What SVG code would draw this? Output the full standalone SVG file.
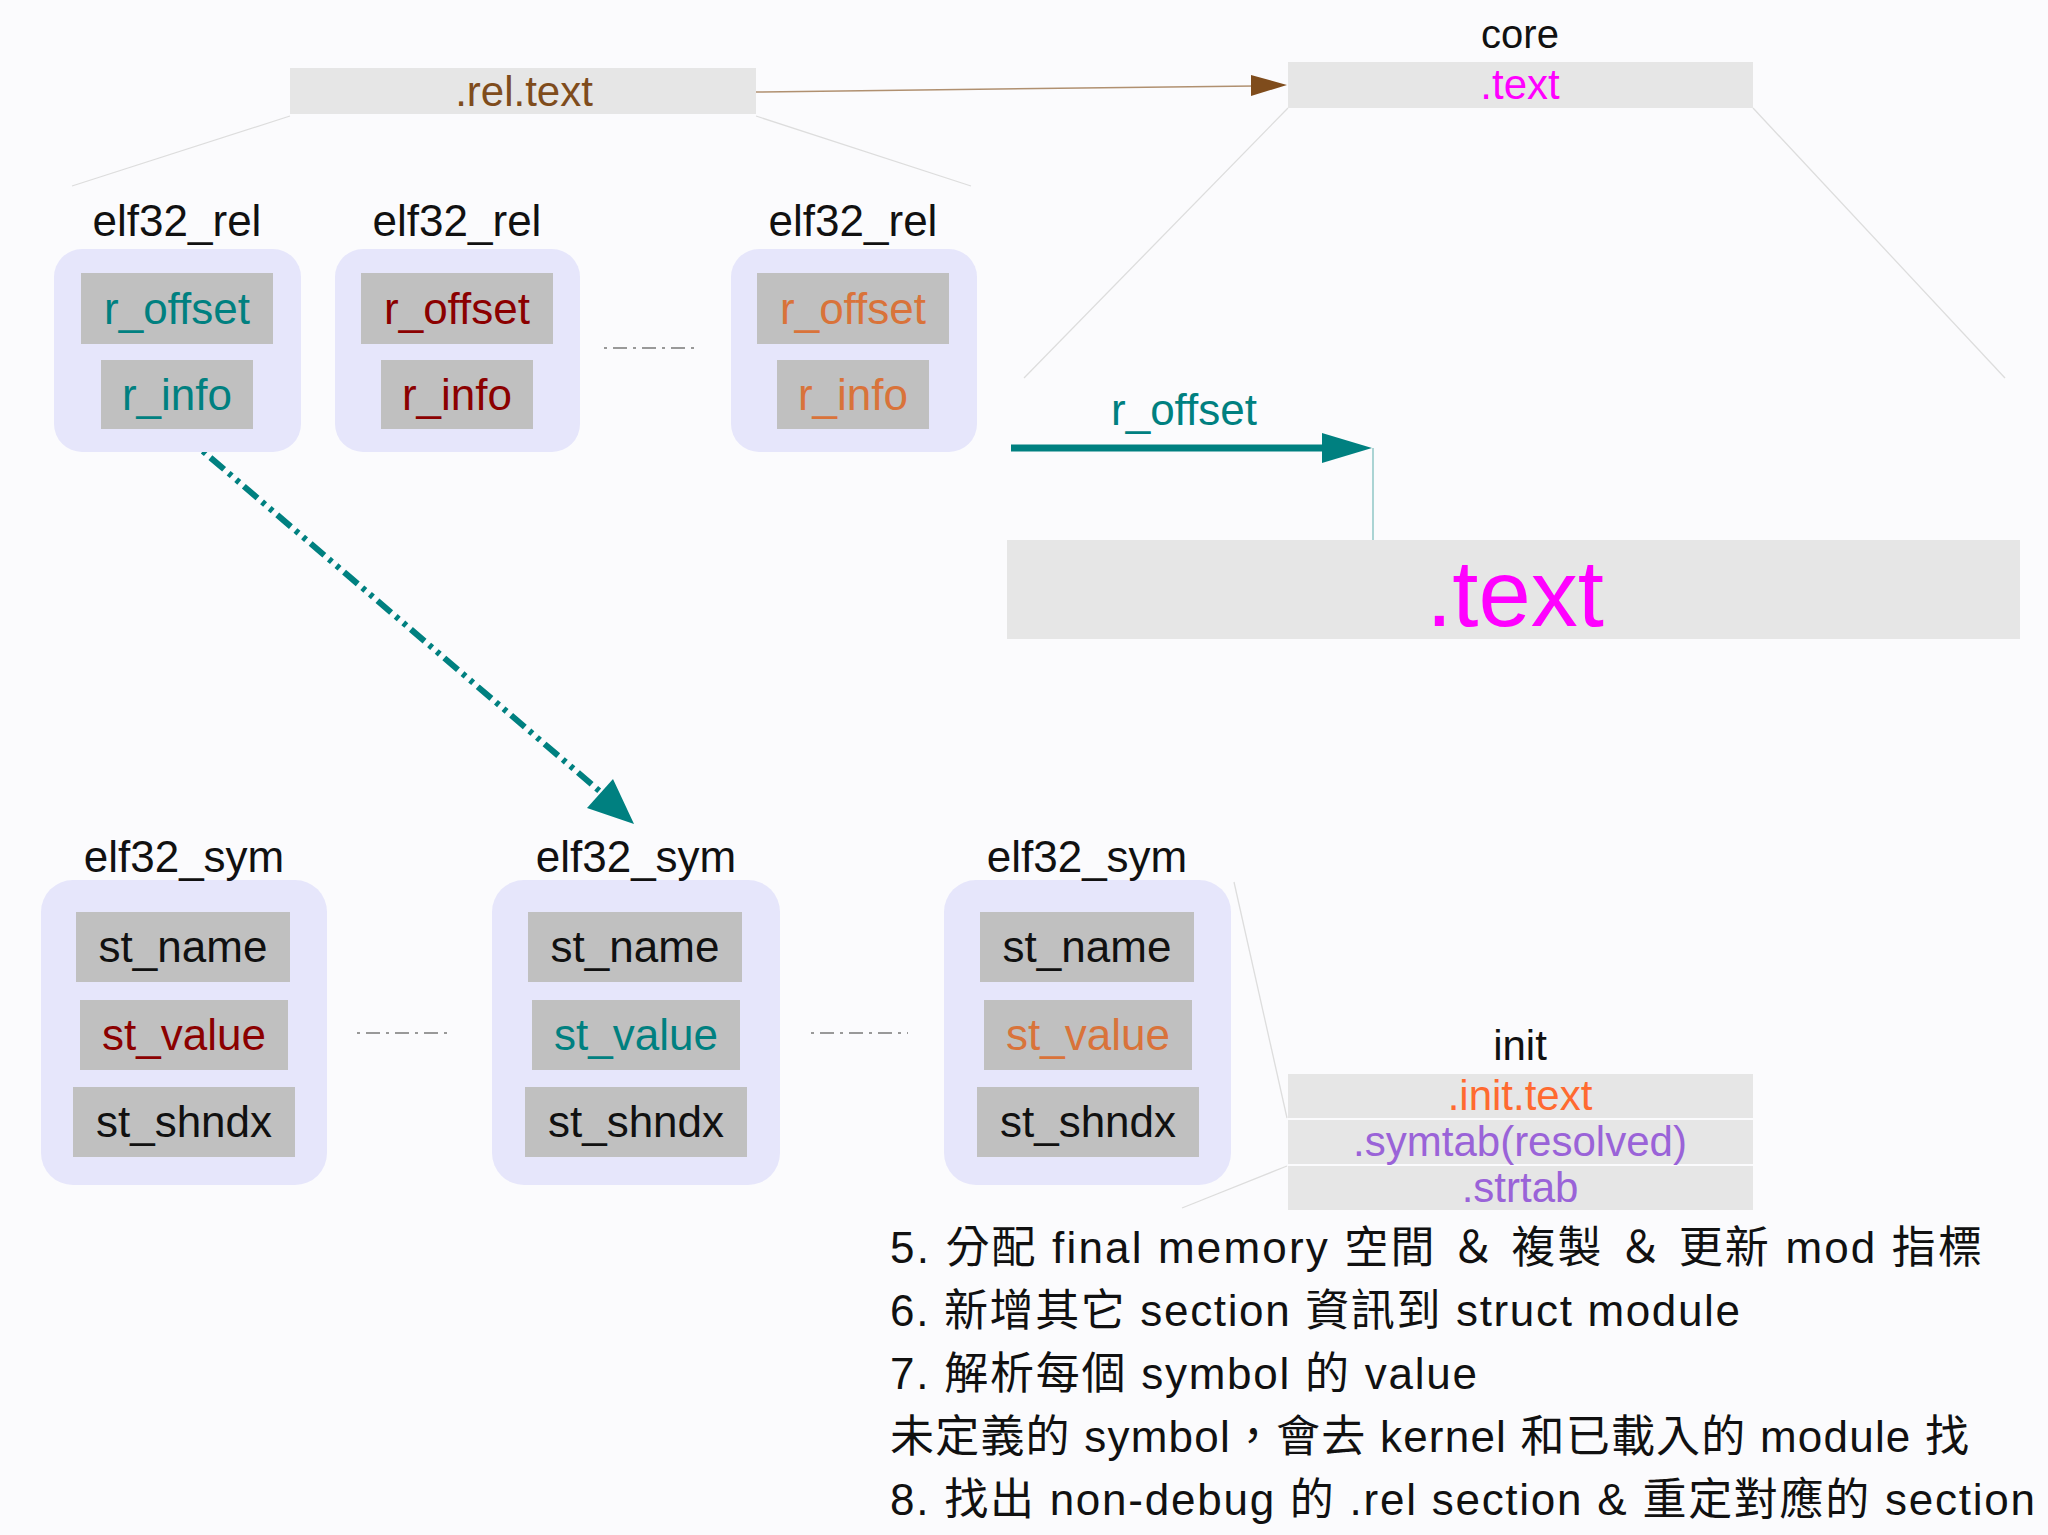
<svg xmlns="http://www.w3.org/2000/svg" width="2048" height="1535" viewBox="0 0 2048 1535">
<style>
text{font-family:"Liberation Sans","Noto Sans CJK TC",sans-serif;}
.lbl{font-size:44px;fill:#111;text-anchor:middle}
.f{font-size:44px;text-anchor:middle}
.cl{fill:#e6e6fb}
.gb{fill:#c0c0c0}
.sec{fill:#e6e6e6}
.thin{stroke:#ddd;stroke-width:1.3;fill:none}
.dash{stroke:#999;stroke-width:2;stroke-dasharray:3 6 14 6;fill:none}
.note{font-size:44px;fill:#111}
</style>
<rect width="2048" height="1535" fill="#fbfbfd"/>
<g id="connectors">
<line class="thin" x1="290" y1="116" x2="72" y2="186"/>
<line class="thin" x1="756" y1="116" x2="971" y2="186"/>
<line class="thin" x1="1288" y1="108" x2="1024" y2="378"/>
<line class="thin" x1="1753" y1="108" x2="2005" y2="378"/>
<line class="thin" x1="1234" y1="882" x2="1287" y2="1118"/>
<line class="thin" x1="1287" y1="1166" x2="1182" y2="1208"/>
<line x1="756" y1="92" x2="1255" y2="86" stroke="#b09070" stroke-width="1.5"/>
<path d="M1251,75L1287,85L1251,96z" fill="#7f4c1c"/>
<line class="dash" x1="604" y1="348" x2="698" y2="348"/>
<line class="dash" x1="357" y1="1033" x2="453" y2="1033"/>
<line class="dash" x1="811" y1="1033" x2="908" y2="1033"/>
<line x1="1011" y1="448" x2="1330" y2="448" stroke="#008080" stroke-width="7"/>
<path d="M1322,433L1372,448L1322,463z" fill="#008080"/>
<line x1="1373" y1="448" x2="1373" y2="540" stroke="#7fbfbf" stroke-width="1.3"/>
<line x1="177" y1="429" x2="610" y2="800" stroke="#008080" stroke-width="6" stroke-dasharray="18 6 4 6 4 6"/>
<path d="M587,808L634,824L613,779z" fill="#008080"/>
</g>
<g id="rel_text"><rect class="sec" x="290" y="68" width="466" height="46"/><text x="524" y="106" font-size="42" fill="#7f4c1c" text-anchor="middle">.rel.text</text></g>
<g id="core"><text x="1520" y="48" font-size="40" fill="#111" text-anchor="middle">core</text><rect class="sec" x="1288" y="62" width="465" height="46"/><text x="1520" y="99" font-size="42" fill="#ff00ff" text-anchor="middle">.text</text></g>
<g id="rel1"><rect class="cl" x="54" y="249" width="247" height="203" rx="28"/><text class="lbl" x="177" y="236">elf32_rel</text>
<rect class="gb" x="81" y="273" width="192" height="71"/><text class="f" x="177" y="324" fill="#008080">r_offset</text>
<rect class="gb" x="101" y="360" width="152" height="69"/><text class="f" x="177" y="410" fill="#008080">r_info</text></g>
<g id="rel2"><rect class="cl" x="335" y="249" width="245" height="203" rx="28"/><text class="lbl" x="457" y="236">elf32_rel</text>
<rect class="gb" x="361" y="273" width="192" height="71"/><text class="f" x="457" y="324" fill="#8b0000">r_offset</text>
<rect class="gb" x="381" y="360" width="152" height="69"/><text class="f" x="457" y="410" fill="#8b0000">r_info</text></g>
<g id="rel3"><rect class="cl" x="731" y="249" width="246" height="203" rx="28"/><text class="lbl" x="853" y="236">elf32_rel</text>
<rect class="gb" x="757" y="273" width="192" height="71"/><text class="f" x="853" y="324" fill="#d9733a">r_offset</text>
<rect class="gb" x="777" y="360" width="152" height="69"/><text class="f" x="853" y="410" fill="#d9733a">r_info</text></g>
<g id="roffset_label"><text x="1184" y="425" font-size="44" fill="#008080" text-anchor="middle">r_offset</text></g>
<g id="text_big"><rect class="sec" x="1007" y="540" width="1013" height="99"/><text x="1515" y="626" font-size="94" fill="#ff00ff" text-anchor="middle">.text</text></g>
<g id="sym1"><rect class="cl" x="41" y="880" width="286" height="305" rx="32"/><text class="lbl" x="184" y="872">elf32_sym</text>
<rect class="gb" x="76" y="912" width="214" height="70"/><text class="f" x="183" y="962" fill="#111">st_name</text>
<rect class="gb" x="80" y="1000" width="208" height="70"/><text class="f" x="184" y="1050" fill="#8b0000">st_value</text>
<rect class="gb" x="73" y="1087" width="222" height="70"/><text class="f" x="184" y="1137" fill="#111">st_shndx</text></g>
<g id="sym2"><rect class="cl" x="492" y="880" width="288" height="305" rx="32"/><text class="lbl" x="636" y="872">elf32_sym</text>
<rect class="gb" x="528" y="912" width="214" height="70"/><text class="f" x="635" y="962" fill="#111">st_name</text>
<rect class="gb" x="532" y="1000" width="208" height="70"/><text class="f" x="636" y="1050" fill="#008080">st_value</text>
<rect class="gb" x="525" y="1087" width="222" height="70"/><text class="f" x="636" y="1137" fill="#111">st_shndx</text></g>
<g id="sym3"><rect class="cl" x="944" y="880" width="287" height="305" rx="32"/><text class="lbl" x="1087" y="872">elf32_sym</text>
<rect class="gb" x="980" y="912" width="214" height="70"/><text class="f" x="1087" y="962" fill="#111">st_name</text>
<rect class="gb" x="984" y="1000" width="208" height="70"/><text class="f" x="1088" y="1050" fill="#d9733a">st_value</text>
<rect class="gb" x="977" y="1087" width="222" height="70"/><text class="f" x="1088" y="1137" fill="#111">st_shndx</text></g>
<g id="init"><text x="1520" y="1060" font-size="42" fill="#111" text-anchor="middle">init</text>
<rect class="sec" x="1288" y="1074" width="465" height="44"/><rect class="sec" x="1288" y="1120" width="465" height="44"/><rect class="sec" x="1288" y="1166" width="465" height="44"/>
<text x="1520" y="1110" font-size="42" fill="#ff6a30" text-anchor="middle">.init.text</text>
<text x="1520" y="1156" font-size="42" fill="#9a63d8" text-anchor="middle">.symtab(resolved)</text>
<text x="1520" y="1202" font-size="42" fill="#9a63d8" text-anchor="middle">.strtab</text></g>
<g id="notes">
<text class="note" x="890" y="1263" textLength="1092" lengthAdjust="spacing">5.  分配 final memory 空間 ＆ 複製 ＆ 更新 mod 指標</text>
<text class="note" x="890" y="1326" textLength="850" lengthAdjust="spacing">6.  新增其它 section 資訊到 struct module</text>
<text class="note" x="890" y="1389" textLength="587" lengthAdjust="spacing">7.  解析每個 symbol 的 value</text>
<text class="note" x="890" y="1452" textLength="1079" lengthAdjust="spacing">未定義的 symbol，會去 kernel 和已載入的 module 找</text>
<text class="note" x="890" y="1515" textLength="1145" lengthAdjust="spacing">8.  找出 non-debug 的 .rel section &amp; 重定對應的 section</text>
</g>
</svg>
